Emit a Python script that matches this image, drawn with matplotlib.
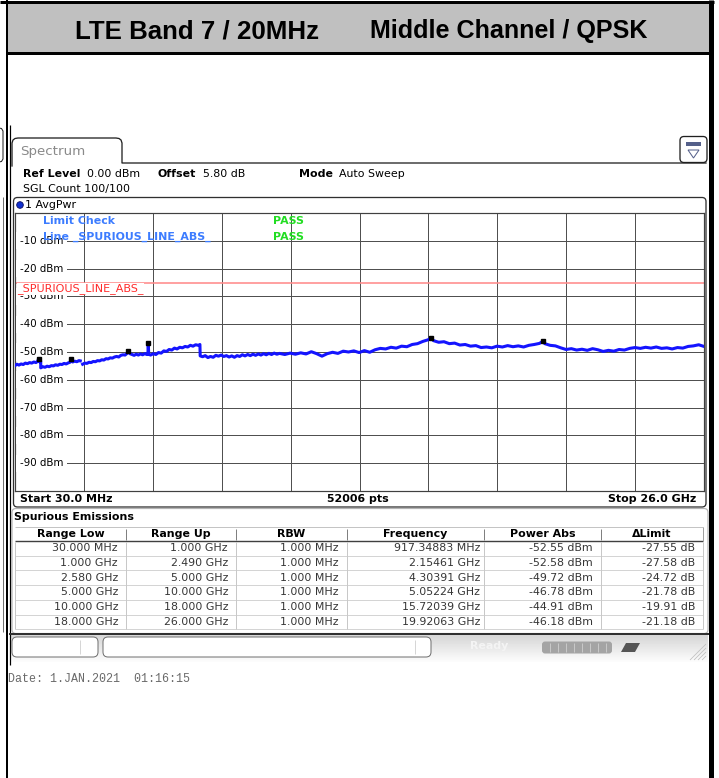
import numpy as np
import matplotlib
matplotlib.use("Agg")
import matplotlib.pyplot as plt
from matplotlib.patches import Rectangle, FancyBboxPatch, Circle, Polygon
from matplotlib.transforms import blended_transform_factory

W, H = 719, 778
PT = 72 / 100  # points per pixel at dpi 100

# ---- measured trace (GHz / dBm), NaN = gap 2.49..2.58 GHz ----
trace_ghz = [
    0.03, 0.10, 0.18, 0.26, 0.34, 0.42, 0.50, 0.58, 0.66, 0.74, 0.82, 0.88, 0.917, 0.95, 1.00,
    1.00, 1.08, 1.16, 1.24, 1.32, 1.40, 1.48, 1.56, 1.64, 1.72, 1.80, 1.88, 1.96, 2.04, 2.10,
    2.154, 2.20, 2.28, 2.36, 2.44, 2.49,
    2.53,
    2.58, 2.66, 2.74, 2.82, 2.90, 2.98, 3.06, 3.14, 3.22, 3.30, 3.38, 3.46, 3.54, 3.62, 3.70,
    3.78, 3.86, 3.94, 4.02, 4.10, 4.18, 4.24, 4.304, 4.36, 4.44, 4.52, 4.60, 4.68, 4.76, 4.84,
    4.92, 5.00,
    5.04, 5.052, 5.07, 5.14, 5.24, 5.34, 5.44, 5.54, 5.64, 5.74, 5.84, 5.94, 6.04, 6.14, 6.24,
    6.34, 6.44, 6.54, 6.64, 6.74, 6.84, 6.94, 7.00, 7.01, 7.10, 7.20, 7.30, 7.40, 7.50, 7.60,
    7.70, 7.80, 7.90, 8.00, 8.10, 8.20, 8.30, 8.40, 8.50, 8.60, 8.70, 8.80, 8.90, 9.00, 9.10,
    9.20, 9.30, 9.40, 9.50, 9.60, 9.70, 9.80, 9.90, 10.00,
    10.2, 10.4, 10.6, 10.8, 11.0, 11.2, 11.4, 11.6, 11.8, 12.0, 12.2, 12.4, 12.6, 12.8, 13.0,
    13.2, 13.4, 13.6, 13.8, 14.0, 14.2, 14.4, 14.6, 14.8, 15.0, 15.2, 15.4, 15.6, 15.72, 15.8,
    16.0, 16.2, 16.4, 16.6, 16.8, 17.0, 17.2, 17.4, 17.6, 17.8, 18.0,
    18.2, 18.4, 18.6, 18.8, 19.0, 19.2, 19.4, 19.6, 19.8, 19.92, 20.0, 20.2, 20.4, 20.6, 20.8,
    21.0, 21.2, 21.4, 21.6, 21.8, 22.0, 22.2, 22.4, 22.6, 22.8, 23.0, 23.2, 23.4, 23.6, 23.8,
    24.0, 24.2, 24.4, 24.6, 24.8, 25.0, 25.2, 25.4, 25.6, 25.8, 26.0,
]
trace_dbm = [
    -54.9, -54.4, -54.7, -54.3, -54.5, -54.0, -54.2, -53.8, -54.0, -53.6, -53.8, -53.4, -52.55, -53.5, -53.3,
    -55.7, -55.3, -55.5, -55.1, -55.3, -54.9, -55.0, -54.6, -54.8, -54.4, -54.5, -54.1, -54.3, -53.9, -53.7,
    -52.58, -53.6, -53.3, -53.5, -53.1, -53.2,
    np.nan,
    -54.4, -54.0, -54.1, -53.7, -53.8, -53.4, -53.5, -53.1, -53.2, -52.8, -52.9, -52.4, -52.5, -52.1, -52.2,
    -51.8, -51.6, -51.8, -51.2, -51.0, -51.1, -50.6, -49.72, -50.6, -50.9, -51.2, -50.8, -51.1, -50.7, -51.0,
    -50.6, -50.9,
    -50.7, -46.78, -50.8, -51.1, -50.6, -50.9, -50.2, -50.4, -49.6, -49.8, -49.1, -49.3, -48.6, -48.9, -48.3,
    -48.5, -48.0, -48.2, -47.6, -47.9, -47.4, -47.6, -47.3, -51.4, -51.7, -51.3, -52.0, -51.6, -51.9, -51.2,
    -51.5, -51.1, -51.6, -51.3, -51.8, -51.4, -51.9, -51.3, -51.6, -51.0, -51.4, -50.9, -51.3, -50.8, -51.2,
    -50.7, -51.1, -50.6, -51.0, -50.5, -50.9, -50.4, -50.8, -50.5,
    -50.9, -50.4, -50.8, -50.3, -50.7, -49.9, -50.6, -51.5, -50.6, -50.1, -50.5, -49.7, -50.0, -49.6, -50.2,
    -49.5, -50.1, -49.2, -48.7, -48.9, -48.3, -48.6, -47.9, -48.1, -47.3, -47.0, -46.2, -45.6, -44.91, -45.9,
    -46.5, -46.3, -47.0, -46.8, -47.5, -47.3, -47.9, -47.7, -48.4, -48.2, -48.5,
    -47.9, -48.2, -47.7, -48.1, -47.8, -48.2, -47.6, -47.3, -46.9, -46.18, -47.0, -47.6, -47.8, -48.5, -49.1,
    -48.8, -49.3, -49.0, -49.4, -48.8, -49.2, -49.8, -49.4, -49.7, -49.1, -49.3, -48.7, -48.4, -48.7, -48.3,
    -48.6, -48.2, -48.7, -48.5, -48.9, -48.4, -48.6, -48.0, -47.8, -47.4, -48.0,
]

# ---- peaks per range (from result table) ----
range_low_ghz = [0.03, 1.0, 2.58, 5.0, 10.0, 18.0]
range_up_ghz = [1.0, 2.49, 5.0, 10.0, 18.0, 26.0]
rbw_mhz = [1.0, 1.0, 1.0, 1.0, 1.0, 1.0]
marker_ghz = [0.91734883, 2.15461, 4.30391, 5.05224, 15.72039, 19.92063]
marker_dbm = [-52.55, -52.58, -49.72, -46.78, -44.91, -46.18]
limit_dbm = -25.0
start_ghz, stop_ghz = 0.03, 26.0
y_labels = [-10, -20, -30, -40, -50, -60, -70, -80, -90]


def fmt_f(g, dec):
    if g < 1:
        return f"{g * 1000:.{dec}f} MHz"
    return f"{g:.{dec}f} GHz"


plt.rcParams['font.family'] = 'DejaVu Sans'
fig = plt.figure(figsize=(W / 100, H / 100), dpi=100)

# background layer in pixel coordinates
bg = fig.add_axes([0, 0, 1, 1])
bg.axis('off')


def line(xs, ys, color, lw_px, z=2):
    bg.plot(xs, ys, color=color, lw=lw_px * PT, solid_capstyle='butt', zorder=z)


# title bar and frame
bg.add_patch(Rectangle((6, 2), 705, 50, fc='#c0c0c0', ec='none', zorder=1))
line([0, 714], [1.5, 1.5], 'black', 3)
line([6, 711], [52.5, 52.5], 'black', 3)
line([6.5, 6.5], [0, H], 'black', 2)
line([710.5, 710.5], [0, H], 'black', 5)
bg.text(75, 31, "LTE Band 7 / 20MHz", fontsize=18.6, fontweight='bold',
        family='Liberation Sans', va='center', ha='left')
bg.text(370, 31, "Middle Channel / QPSK", fontsize=18.1, fontweight='bold',
        family='Liberation Sans', va='center', ha='left')

# screenshot edges
line([9.6, 9.6], [125, 665], 'black', 1.2)
bg.plot([-1, 1.5, 3, 3, 1.5, -1], [128, 128.5, 131, 159, 161.5, 162], color='#202020', lw=1 * PT)
line([2.5, 2.5], [197, 632], '#707070', 1)

# Spectrum tab
tab_x = [12, 12, 13, 15, 18, 116, 119, 121, 122, 122, 706]
tab_y = [166, 143, 140, 138.5, 138, 138, 138.5, 140, 143, 163, 163]
bg.plot(tab_x, tab_y, color='#202020', lw=1.3 * PT, zorder=2)
bg.text(20, 151, "Spectrum", fontsize=9.6, color='#8a8a8a', va='center')

# top-right icon
bg.add_patch(FancyBboxPatch((680, 136.5), 27, 26, boxstyle='round,pad=0,rounding_size=4',
                            fc='white', ec='#202020', lw=1.3 * PT))
bg.add_patch(Rectangle((686, 142), 15, 4, fc='#55608a', ec='none', zorder=3))
bg.add_patch(Polygon([[688, 150], [699, 150], [693.5, 158]], closed=True, fc='none',
                     ec='#55608a', lw=1 * PT, zorder=3))

# header info
hdr_y = 174
bg.text(23, hdr_y, "Ref Level", fontsize=7.9, fontweight='bold', va='center')
bg.text(87, hdr_y, "0.00 dBm", fontsize=7.9, va='center')
bg.text(158, hdr_y, "Offset", fontsize=7.9, fontweight='bold', va='center')
bg.text(203, hdr_y, "5.80 dB", fontsize=7.9, va='center')
bg.text(299, hdr_y, "Mode", fontsize=7.9, fontweight='bold', va='center')
bg.text(339, hdr_y, "Auto Sweep", fontsize=7.9, va='center')
bg.text(23, 189, "SGL Count 100/100", fontsize=7.9, va='center')

# trace window
bg.add_patch(FancyBboxPatch((13.5, 197.5), 692.5, 309.5, boxstyle='round,pad=0,rounding_size=4',
                            fc='white', ec='#303030', lw=1.3 * PT, zorder=1.5))
bg.add_patch(Circle((20, 205), 3.3, fc='#1030d0', ec='#0a0a60', lw=0.6, zorder=3))
bg.text(25, 205, "1 AvgPwr", fontsize=7.9, va='center')
bg.text(20, 499, "Start 30.0 MHz", fontsize=7.9, fontweight='bold', va='center')
bg.text(358, 499, f"{52006} pts", fontsize=7.9, fontweight='bold', va='center', ha='center')
bg.text(696, 499, "Stop 26.0 GHz", fontsize=7.9, fontweight='bold', va='center', ha='right')

# result table
bg.add_patch(FancyBboxPatch((12, 508.5), 696, 125, boxstyle='round,pad=0,rounding_size=4',
                            fc='white', ec='#b4b4b4', lw=1.2 * PT, zorder=1.5))
bg.text(14, 517, "Spurious Emissions", fontsize=7.9, fontweight='bold', va='center')
col_edges = [15, 126, 236, 347, 484, 601, 703]
col_names = ["Range Low", "Range Up", "RBW", "Frequency", "Power Abs", "\u0394Limit"]
col_pad = [8, 8, 9, 4, 8, 8]
row_h = 14.7
head_bot = 541
line([15, 703], [527, 527], '#c4c4c4', 1)
line([15, 703], [head_bot, head_bot], '#404040', 1.4)
for k in range(1, 7):
    line([15, 703], [head_bot + k * row_h] * 2, '#d4d4d4', 1)
for i, xe in enumerate(col_edges):
    if 0 < i < len(col_edges) - 1:
        line([xe, xe], [529, head_bot - 1], '#808080', 1)
    line([xe, xe], [head_bot + 1, head_bot + 6 * row_h], '#c8c8c8', 1)
line([703, 703], [527, head_bot], '#a0a0a0', 1)
for i, name in enumerate(col_names):
    bg.text((col_edges[i] + col_edges[i + 1]) / 2, 534, name, fontsize=7.9,
            fontweight='bold', ha='center', va='center')
rows = []
for j in range(len(marker_ghz)):
    rows.append([fmt_f(range_low_ghz[j], 3), fmt_f(range_up_ghz[j], 3),
                 f"{rbw_mhz[j]:.3f} MHz", fmt_f(marker_ghz[j], 5),
                 f"{marker_dbm[j]:.2f} dBm", f"{marker_dbm[j] - limit_dbm:.2f} dB"])
for j, r in enumerate(rows):
    yc = head_bot + (j + 0.5) * row_h
    for i, s in enumerate(r):
        bg.text(col_edges[i + 1] - col_pad[i], yc, s, fontsize=7.9, color='#363636',
                ha='right', va='center')
line([9, 709], [634, 634], '#303030', 2)

# status bar
grad = np.linspace(0.84, 0.99, 30)[:, None] * np.ones((1, 2))
bg.imshow(grad, extent=[10, 708, 662, 635.5], cmap='gray', vmin=0, vmax=1,
          aspect='auto', zorder=1)
bg.add_patch(FancyBboxPatch((12, 637), 86, 20, boxstyle='round,pad=0,rounding_size=5',
                            fc='white', ec='#707070', lw=1 * PT, zorder=2))
line([80, 80], [640, 654], '#d6d6d6', 1, z=3)
bg.add_patch(FancyBboxPatch((103, 637), 328, 20, boxstyle='round,pad=0,rounding_size=5',
                            fc='white', ec='#707070', lw=1 * PT, zorder=2))
line([415, 415], [640, 654], '#d6d6d6', 1, z=3)
bg.text(470, 646, "Ready", fontsize=7.9, fontweight='bold', color='#f4f4f4', va='center')
bg.add_patch(FancyBboxPatch((542, 641.5), 70, 12, boxstyle='round,pad=0,rounding_size=3',
                            fc='#a4a4a4', ec='none', zorder=2))
for xs in range(550, 610, 8):
    line([xs, xs], [643, 652], '#c8c8c8', 1, z=3)
bg.add_patch(Polygon([[621, 652], [626, 643], [640, 643], [635, 652]], closed=True,
                     fc='#555555', ec='none', zorder=3))
for d in range(0, 20, 4):
    line([690 + d, 706], [660, 644 + d], '#c0c0c0', 0.8, z=3)

bg.text(8, 679, "Date: 1.JAN.2021  01:16:15", fontsize=8.4, family='Liberation Mono',
        color='#6a6a6a', va='center')

bg.set_xlim(0, W)
bg.set_ylim(H, 0)

# ---- spectrum plot ----
ax = fig.add_axes([15 / W, 1 - 491 / H, 689 / W, 278 / H])
ax.set_xlim(start_ghz, stop_ghz)
ax.set_ylim(-100, 0)
ax.set_xticks(np.linspace(start_ghz, stop_ghz, 11))
ax.set_yticks(np.arange(-100, 1, 10))
ax.grid(True, color='#505050', lw=1 * PT)
ax.tick_params(length=0, labelbottom=False, labelleft=False)
for sp in ax.spines.values():
    sp.set_color('#404040')
    sp.set_linewidth(1.2 * PT)

blend = blended_transform_factory(ax.transAxes, ax.transData)
for v in y_labels:
    ax.text(5 / 689, v, f"{v} dBm", transform=blend, fontsize=7.4, va='center', ha='left',
            bbox=dict(fc='white', ec='none', pad=2.6), zorder=3)

ax.axhline(limit_dbm, color='#ff8c8c', lw=1.6 * PT, zorder=2.5)
ax.text(2 / 689, (491 - 289) / 278, "_SPURIOUS_LINE_ABS_", transform=ax.transAxes,
        color='#ff2a2a', fontsize=8, va='center', ha='left',
        bbox=dict(fc='white', ec='none', pad=0.2), zorder=3.5)

ax.plot(trace_ghz, trace_dbm, color='#1414ff', lw=2.2, zorder=4)
ax.plot(marker_ghz, marker_dbm, 's', color='black', ms=3.2, zorder=5)

ax.text(28 / 689, (491 - 221) / 278, "Limit Check", transform=ax.transAxes, color='#3c7cff',
        fontsize=7.9, fontweight='bold', va='center', zorder=6)
ax.text(28 / 689, (491 - 237) / 278, "Line _SPURIOUS_LINE_ABS_", transform=ax.transAxes,
        color='#3c7cff', fontsize=7.9, fontweight='bold', va='center', zorder=6)
for yy in [221, 237]:
    ax.text(258 / 689, (491 - yy) / 278, "PASS", transform=ax.transAxes, color='#22dd22',
            fontsize=7.9, fontweight='bold', va='center', zorder=6)

fig.savefig("out.png", dpi=100)
plt.close(fig)
